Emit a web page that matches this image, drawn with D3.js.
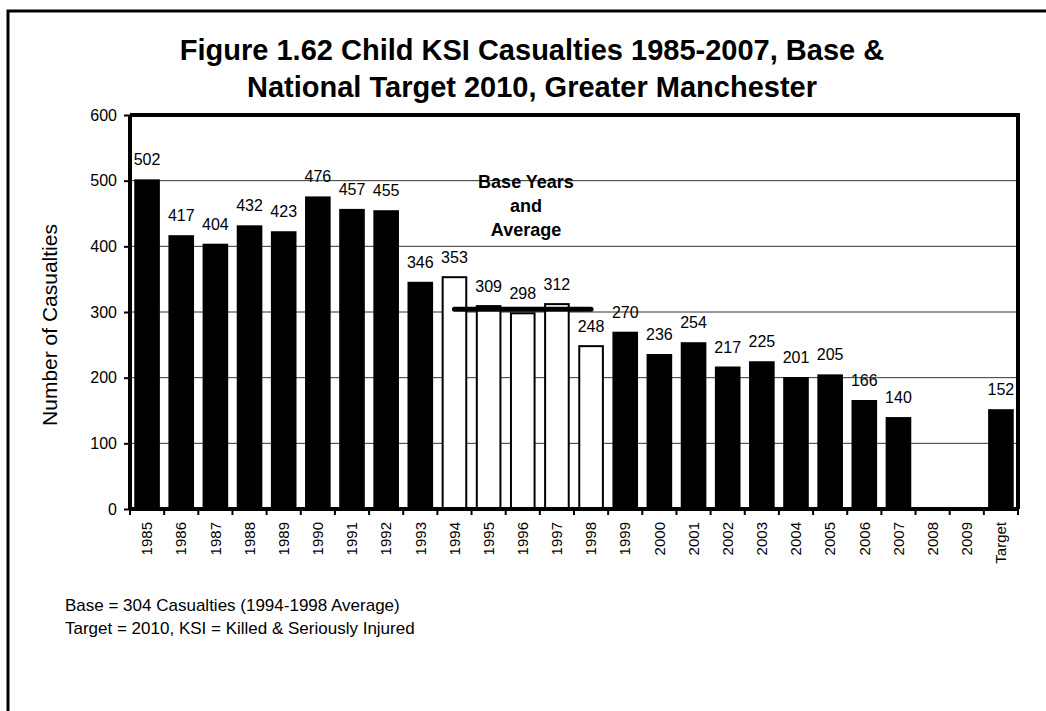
<!DOCTYPE html>
<html>
<head>
<meta charset="utf-8">
<script src="https://cdn.jsdelivr.net/npm/d3@7"></script>
<style>
    body { margin: 0; background: #fff; }
    svg text { font-family: "Liberation Sans", Arial, sans-serif; fill: #000; }
</style>
</head>
<body>
<div id="chart"></div>
<script>
const years = ['1985', '1986', '1987', '1988', '1989', '1990', '1991', '1992', '1993', '1994',
               '1995', '1996', '1997', '1998', '1999', '2000', '2001', '2002', '2003', '2004',
               '2005', '2006', '2007', '2008', '2009', 'Target'];
const casualties = [502, 417, 404, 432, 423, 476, 457, 455, 346, 353,
                    309, 298, 312, 248, 270, 236, 254, 217, 225, 201,
                    205, 166, 140, null, null, 152];
const baseYears = ['1994', '1995', '1996', '1997', '1998'];
const baseAverage = 304;
const yTicks = [0, 100, 200, 300, 400, 500, 600];
const titleLines = ['Figure 1.62 Child KSI Casualties 1985-2007, Base &',
                    'National Target 2010, Greater Manchester'];
const notes = ['Base = 304 Casualties (1994-1998 Average)',
               'Target = 2010, KSI = Killed & Seriously Injured'];

const W = 1046, H = 711;
const plot = { left: 130, right: 1018, top: 115, bottom: 509 };
const font = '"Liberation Sans", Arial, sans-serif';

const svg = d3.select('#chart').append('svg')
    .attr('width', W)
    .attr('height', H);

// outer frame (runs off the right / bottom of the picture)
svg.append('rect')
    .attr('x', 8).attr('y', 11)
    .attr('width', 1100).attr('height', 800)
    .style('fill', 'none')
    .style('stroke', '#000')
    .style('stroke-width', 3);

svg.selectAll('text.title')
    .data(titleLines)
    .enter()
    .append('text')
        .attr('class', 'title')
        .attr('x', 532)
        .attr('y', (d, i) => 60 + i * 37)
        .attr('text-anchor', 'middle')
        .style('font-size', '29px')
        .style('font-weight', 'bold')
        .text(d => d);

const x = d3.scaleBand()
    .domain(years)
    .range([plot.left, plot.right])
    .paddingInner(0.25)
    .paddingOuter(0.125);

const y = d3.scaleLinear()
    .domain([0, 600])
    .range([plot.bottom, plot.top]);

// gridlines
svg.append('g')
    .selectAll('line')
    .data(yTicks.filter(t => t > 0 && t < 600))
    .enter()
    .append('line')
        .attr('x1', plot.left).attr('x2', plot.right)
        .attr('y1', d => y(d)).attr('y2', d => y(d))
        .style('stroke', '#333')
        .style('stroke-width', 1);

// bars
const data = years.map((k, i) => ({ year: k, value: casualties[i] }))
                  .filter(d => d.value !== null);
const isBase = d => baseYears.includes(d.year);

svg.append('g')
    .selectAll('rect')
    .data(data)
    .enter()
    .append('rect')
        .attr('x', d => x(d.year) + (isBase(d) ? 1 : 0))
        .attr('y', d => y(d.value))
        .attr('width', d => x.bandwidth() - (isBase(d) ? 2 : 0))
        .attr('height', d => y(0) - y(d.value))
        .style('fill', d => isBase(d) ? '#fff' : '#000')
        .style('stroke', '#000')
        .style('stroke-width', d => isBase(d) ? 2 : 0);

// value labels
svg.append('g')
    .selectAll('text')
    .data(data)
    .enter()
    .append('text')
        .attr('x', d => x(d.year) + x.bandwidth() / 2)
        .attr('y', d => y(d.value) - 14)
        .attr('text-anchor', 'middle')
        .style('font-size', '16px')
        .text(d => d.value);

// base average line
svg.append('line')
    .attr('x1', x(baseYears[0]) + x.bandwidth() / 2)
    .attr('x2', x(baseYears[baseYears.length - 1]) + x.bandwidth() / 2)
    .attr('y1', y(baseAverage)).attr('y2', y(baseAverage))
    .style('stroke', '#000')
    .style('stroke-width', 5)
    .style('stroke-linecap', 'round');

svg.selectAll('text.note-base')
    .data(['Base Years', 'and', 'Average'])
    .enter()
    .append('text')
        .attr('class', 'note-base')
        .attr('x', 526)
        .attr('y', (d, i) => 188 + i * 24)
        .attr('text-anchor', 'middle')
        .style('font-size', '18px')
        .style('font-weight', 'bold')
        .text(d => d);

// plot frame: top and right
svg.append('path')
    .attr('d', `M${plot.left},${plot.top}H${plot.right}V${plot.bottom}`)
    .style('fill', 'none')
    .style('stroke', '#000')
    .style('stroke-width', 4);

// axes
const axisY = svg.append('g')
    .attr('transform', `translate(${plot.left}, 0)`)
    .call(d3.axisLeft(y).tickValues(yTicks).tickSize(6).tickPadding(7));

const axisX = svg.append('g')
    .attr('transform', `translate(0, ${plot.bottom})`)
    .call(d3.axisBottom(x).tickSize(0));

// ticks on band edges
svg.append('g')
    .selectAll('line')
    .data(years.concat(['end']))
    .enter()
    .append('line')
        .attr('x1', (d, i) => plot.left + i * (plot.right - plot.left) / years.length)
        .attr('x2', (d, i) => plot.left + i * (plot.right - plot.left) / years.length)
        .attr('y1', plot.bottom).attr('y2', plot.bottom + 6)
        .style('stroke', '#000')
        .style('stroke-width', 2);

axisY.select('.domain').style('stroke-width', 4).attr('d', `M0,${plot.top}V${plot.bottom}`);
axisY.selectAll('.tick line').style('stroke-width', 2);
axisY.selectAll('.tick text')
    .style('font-size', '16px')
    .style('font-family', font);

axisX.select('.domain').style('stroke-width', 4).attr('d', `M${plot.left},0H${plot.right}`);
axisX.selectAll('.tick text')
    .style('font-size', '15px')
    .style('font-family', font)
    .attr('transform', 'rotate(-90)')
    .attr('x', -13)
    .attr('y', 0)
    .attr('dy', '0.35em')
    .attr('text-anchor', 'end');

// y axis title
svg.append('text')
    .attr('transform', 'translate(57, 325) rotate(-90)')
    .attr('text-anchor', 'middle')
    .style('font-size', '21px')
    .text('Number of Casualties');

svg.selectAll('text.footnote')
    .data(notes)
    .enter()
    .append('text')
        .attr('class', 'footnote')
        .attr('x', 65)
        .attr('y', (d, i) => 611 + i * 23)
        .style('font-size', '17px')
        .text(d => d);
</script>
</body>
</html>
